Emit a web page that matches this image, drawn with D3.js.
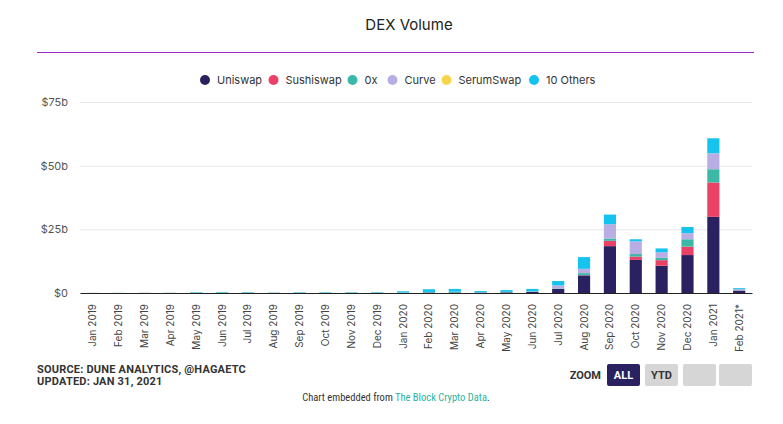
<!DOCTYPE html>
<html><head><meta charset="utf-8">
<script src="https://cdn.jsdelivr.net/npm/d3@7"></script>
<style>
html,body{margin:0;padding:0;background:#fff;}
svg{display:block;font-family:Inter,"Noto Sans",sans-serif;}
</style></head><body>
<svg id="chart" width="783" height="424"></svg>
<script>
const months = ["Jan 2019","Feb 2019","Mar 2019","Apr 2019","May 2019","Jun 2019","Jul 2019","Aug 2019","Sep 2019","Oct 2019","Nov 2019","Dec 2019","Jan 2020","Feb 2020","Mar 2020","Apr 2020","May 2020","Jun 2020","Jul 2020","Aug 2020","Sep 2020","Oct 2020","Nov 2020","Dec 2020","Jan 2021","Feb 2021*"];
const seriesNames = ["Uniswap","Sushiswap","0x","Curve","SerumSwap","10 Others"];
const uniswap   = [0.01,0.015,0.02,0.02,0.05,0.07,0.06,0.04,0.04,0.05,0.04,0.05,0.08,0.18,0.2,0.12,0.25,0.45,1.6,6.9,18.4,13.0,10.7,14.9,29.9,0.9];
const sushiswap = [0,0,0,0,0,0,0,0,0,0,0,0,0,0,0,0,0,0,0,0.1,2.1,1.3,2.2,3.3,13.5,0.1];
const zeroX     = [0.02,0.02,0.03,0.03,0.1,0.12,0.1,0.05,0.1,0.1,0.1,0.1,0.12,0.15,0.2,0.1,0.1,0.15,0.2,0.8,0.9,1.0,0.9,2.9,5.2,0.1];
const curve     = [0,0,0,0,0,0,0,0,0,0,0,0,0.02,0.05,0.1,0.05,0.1,0.1,1.2,1.7,5.6,5.0,2.2,2.4,6.2,0.4];
const serumSwap = [0,0,0,0,0,0,0,0,0,0,0,0,0,0,0,0,0,0,0,0,0,0,0,0.02,0.05,0];
const others    = [0.01,0.01,0.01,0.02,0.15,0.15,0.15,0.05,0.15,0.15,0.15,0.15,0.45,1.1,1.1,0.5,0.7,0.9,1.7,4.6,3.8,0.8,1.5,2.4,5.9,0.4];
const colors = ["#2a2260","#ea4167","#3bb9a6","#b8aee3","#f7d54a","#14c3ee"];
const yTicks = [0,25,50,75];
const yTickLabels = ["$0","$25b","$50b","$75b"];

const table = months.map((m,i)=>({month:m,"Uniswap":uniswap[i],"Sushiswap":sushiswap[i],"0x":zeroX[i],"Curve":curve[i],"SerumSwap":serumSwap[i],"10 Others":others[i]}));

const svg = d3.select("#chart");
const L=80,R=752,T=102,B=293;
const x = d3.scaleBand().domain(months).range([L,R]).paddingInner(0.53).paddingOuter(0.26);
const y = d3.scaleLinear().domain([0,75]).range([B,T]);
const color = d3.scaleOrdinal().domain(seriesNames).range(colors);

// title
svg.append("text").attr("x",409).attr("y",30).attr("text-anchor","middle")
  .attr("font-size",15).attr("fill","#222").text("DEX Volume");
svg.append("line").attr("x1",37).attr("x2",754).attr("y1",52.5).attr("y2",52.5)
  .attr("stroke","#9a28c2").attr("stroke-width",1.2);

// legend
const legX = [205,273.5,352.5,392.5,446.5,534];
const leg = svg.append("g");
seriesNames.forEach((s,i)=>{
  leg.append("circle").attr("cx",legX[i]).attr("cy",80).attr("r",5).attr("fill",colors[i]);
  leg.append("text").attr("x",legX[i]+12).attr("y",84).attr("font-size",11).attr("fill","#333").text(s);
});

// gridlines & y axis
const yAxis = d3.axisLeft(y).tickValues(yTicks).tickFormat((d,i)=>yTickLabels[i]).tickSize(-(R-L)).tickPadding(12);
const gy = svg.append("g").attr("transform",`translate(${L},0)`).call(yAxis);
gy.select(".domain").remove();
gy.selectAll(".tick line").attr("stroke","#e6e6e6");
gy.selectAll(".tick text").attr("font-size",11).attr("fill","#555").attr("font-family","Inter,'Noto Sans',sans-serif");

// bars
const stack = d3.stack().keys(seriesNames)(table);
svg.append("g").selectAll("g").data(stack).join("g").attr("fill",d=>color(d.key))
  .selectAll("rect").data(d=>d).join("rect")
  .attr("x",d=>x(d.data.month)).attr("width",x.bandwidth())
  .attr("y",d=>y(d[1])).attr("height",d=>Math.max(0,y(d[0])-y(d[1])));

// x axis
const xAxis = d3.axisBottom(x).tickSize(0).tickPadding(0);
const gx = svg.append("g").attr("transform",`translate(0,${B})`).call(xAxis);
gx.select(".domain").attr("stroke","#222").attr("stroke-width",1.2);
gx.selectAll(".tick text").attr("font-size",10).attr("fill","#444")
  .attr("font-family","Inter,'Noto Sans',sans-serif")
  .attr("transform","rotate(-90)").attr("text-anchor","end")
  .attr("x",-11).attr("y",0).attr("dy","0.35em");

// footer
const narrow = "'Liberation Sans Narrow','Roboto Condensed','Arial Narrow',Roboto,sans-serif";
const foot = svg.append("g").attr("font-family","Roboto,sans-serif").attr("font-weight","bold").attr("font-size",11).attr("fill","#333");
foot.append("text").attr("x",37).attr("y",373).attr("letter-spacing",0.2).text("SOURCE: DUNE ANALYTICS, @HAGAETC");
foot.append("text").attr("x",37).attr("y",385).attr("letter-spacing",0.2).text("UPDATED: JAN 31, 2021");
foot.append("text").attr("x",601).attr("y",379).attr("text-anchor","end").text("ZOOM");

const btns = [{t:"ALL",x:607,active:true},{t:"YTD",x:645},{t:"",x:683},{t:"",x:719}];
btns.forEach(b=>{
  svg.append("rect").attr("x",b.x).attr("y",364).attr("width",33).attr("height",22).attr("rx",2)
    .attr("fill",b.active?"#2a2260":"#d6d6d6");
  if(b.t) svg.append("text").attr("x",b.x+16.5).attr("y",379).attr("text-anchor","middle")
    .attr("font-family","Roboto,sans-serif")
    .attr("font-weight","bold").attr("font-size",11).attr("fill",b.active?"#fff":"#333").text(b.t);
});

const emb = svg.append("text").attr("x",396).attr("y",401).attr("text-anchor","middle")
  .attr("font-size",10.5).attr("fill","#333").attr("font-family",narrow);
emb.append("tspan").text("Chart embedded from ");
emb.append("tspan").attr("fill","#2bb3a0").text("The Block Crypto Data");
emb.append("tspan").text(".");
</script></body></html>
